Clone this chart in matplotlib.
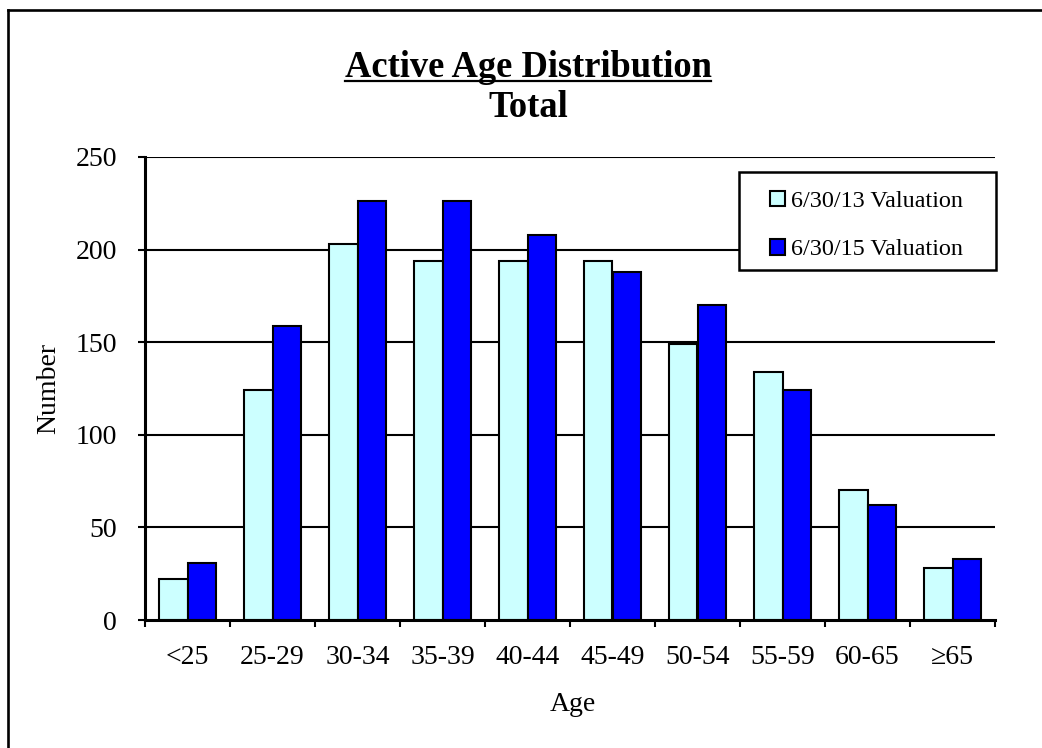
import matplotlib
matplotlib.use("Agg")
import matplotlib.pyplot as plt
from matplotlib.lines import Line2D
from matplotlib.patches import Rectangle
import numpy as np

# Age bands and counts for the two valuation dates
age_bands = ["<25", "25-29", "30-34", "35-39", "40-44", "45-49",
             "50-54", "55-59", "60-65", "\u226565"]
val_2013 = [22, 124, 203, 194, 194, 194, 149, 134, 70, 28]
val_2015 = [31, 159, 226, 226, 208, 188, 170, 124, 62, 33]
series_labels = ["6/30/13 Valuation", "6/30/15 Valuation"]
y_ticks = [0, 50, 100, 150, 200, 250]

plt.rcParams["font.family"] = ["Liberation Serif", "DejaVu Serif"]

W, H, DPI = 1042, 748, 100
fig = plt.figure(figsize=(W / DPI, H / DPI), dpi=DPI)
fig.patch.set_facecolor("white")

L, R, T, B = 145, 995, 157, 620
ax = fig.add_axes([L / W, 1 - B / H, (R - L) / W, (B - T) / H])

x = np.arange(len(age_bands))
bw = 0.335
ax.bar(x - bw / 2, val_2013, width=bw, color="#CCFFFF", edgecolor="black",
       linewidth=1.5, label=series_labels[0], zorder=3)
ax.bar(x + bw / 2, val_2015, width=bw, color="#0000FF", edgecolor="black",
       linewidth=1.5, label=series_labels[1], zorder=3)

ax.set_xlim(-0.5, len(age_bands) - 0.5)
ax.set_ylim(0, 250)

# horizontal gridlines
for v in y_ticks[1:]:
    ax.axhline(v, color="black", linewidth=1.5, zorder=1)

for s in ["top", "right"]:
    ax.spines[s].set_visible(False)
for s in ["left", "bottom"]:
    ax.spines[s].set_linewidth(2.2)
    ax.spines[s].set_zorder(4)

ax.set_yticks(y_ticks)
ax.set_yticklabels([str(v) for v in y_ticks], fontsize=20)
ax.tick_params(axis="y", direction="out", length=5, width=1.5, pad=15)

# category boundary ticks on the x axis, labels centred on each group
ax.set_xticks(np.arange(-0.5, len(age_bands)), minor=False)
ax.set_xticklabels([])
ax.set_xticks(x, minor=True)
ax.set_xticklabels(age_bands, minor=True, fontsize=20)
ax.tick_params(axis="x", which="major", direction="out", length=5, width=1.5)
ax.tick_params(axis="x", which="minor", length=0, pad=18)

ax.set_ylabel("Number", fontsize=20)
ax.yaxis.set_label_coords(-0.098, 0.5)
ax.set_xlabel("Age", fontsize=20, va="center")
ax.xaxis.set_label_coords(0.503, -0.182)

# legend box: white panel with black border, entries placed inside it
def ax_xy(px, py):
    return ((px - L) / (R - L), (B - py) / (B - T))

bx0, by0 = ax_xy(739, 270)
bx1, by1 = ax_xy(996, 172)
ax.add_patch(Rectangle((bx0, by0), bx1 - bx0, by1 - by0, transform=ax.transAxes,
                       facecolor="white", edgecolor="black", linewidth=1.8,
                       zorder=5, clip_on=False))
lx, ly = ax_xy(770, 191)
leg = ax.legend(loc="upper left", bbox_to_anchor=(lx, ly),
                fontsize=17.4, frameon=False, borderpad=0.0,
                labelspacing=1.12, handlelength=0.6, handleheight=0.6,
                handletextpad=0.25, borderaxespad=0.0)
leg.set_zorder(6)

# title with underlined first line
t1 = fig.text(528 / W, 1 - 77 / H, "Active Age Distribution", fontsize=26.3,
              fontweight="bold", ha="center", va="baseline")
fig.text(528 / W, 1 - 117 / H, "Total", fontsize=26.3, fontweight="bold",
         ha="center", va="baseline")
fig.canvas.draw()
bb = t1.get_window_extent(renderer=fig.canvas.get_renderer())
uy = 1 - 81 / H
fig.add_artist(Line2D([bb.x0 / W, bb.x1 / W], [uy, uy], color="black",
                      linewidth=1.6, transform=fig.transFigure))

# frame edges along the top and left of the chart area
fig.add_artist(Line2D([8 / W, 1.0], [1 - 10 / H, 1 - 10 / H], color="black",
                      linewidth=1.9, transform=fig.transFigure))
fig.add_artist(Line2D([8 / W, 8 / W], [0.0, 1 - 10 / H], color="black",
                      linewidth=1.9, transform=fig.transFigure))

fig.savefig("out.png", dpi=DPI)
